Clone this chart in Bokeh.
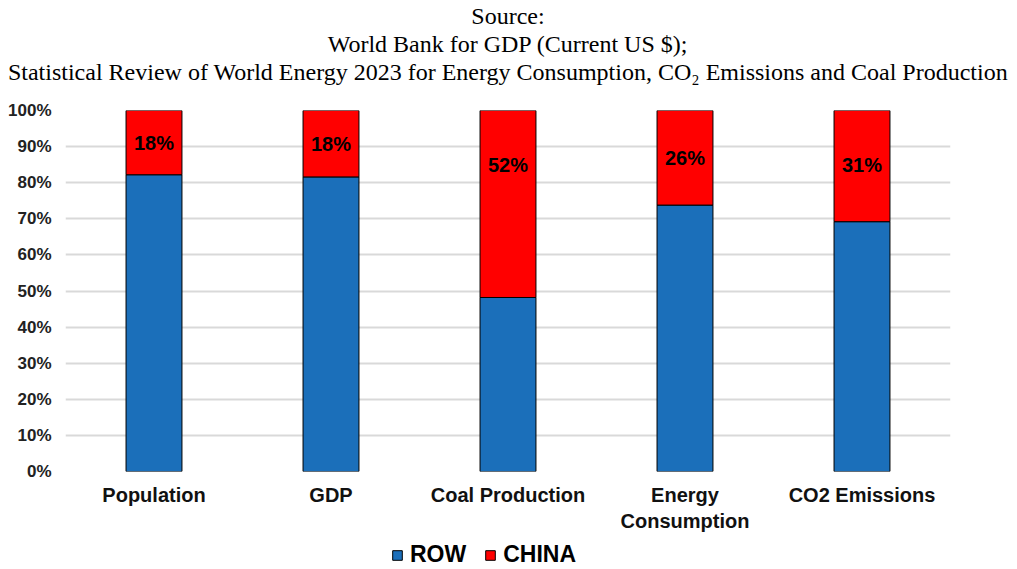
from bokeh.plotting import figure
from bokeh.layouts import column
from bokeh.models import (ColumnDataSource, FactorRange, Range1d, Title, Legend, LegendItem,
                          NumeralTickFormatter, FixedTicker)
from bokeh.embed import file_html
from bokeh.resources import INLINE
from bokeh.core.properties import value

categories = ["Population", "GDP", "Coal Production", "Energy\nConsumption", "CO2 Emissions"]
row_share = [0.822, 0.816, 0.482, 0.738, 0.692]
china_share = [0.178, 0.184, 0.518, 0.262, 0.308]
series_names = ["ROW", "CHINA"]
series_colors = ["#1B6FBA", "#FF0000"]
title_lines = [
    "Source:",
    "World Bank for GDP (Current US $);",
    "Statistical Review of World Energy 2023 for Energy Consumption, CO\u2082 Emissions and Coal Production",
]

label_text = ["%d%%" % round(c * 100) for c in china_share]
label_y = [max(r + c / 2, 0.85) for r, c in zip(row_share, china_share)]

source = ColumnDataSource(dict(cat=categories, ROW=row_share, CHINA=china_share,
                               label=label_text, ly=label_y))

p = figure(frame_width=885, frame_height=361, x_range=FactorRange(*categories), y_range=Range1d(0, 1),
           output_backend="svg", toolbar_location=None,
           min_border_left=65, min_border_right=67, min_border_top=0, min_border_bottom=66)

rs = p.vbar_stack(series_names, x="cat", width=0.316, source=source,
                  fill_color=series_colors, line_color="black", line_width=1)

p.text(x="cat", y="ly", text="label", source=source, text_align="center", text_baseline="middle",
       text_font=value("Liberation Sans"), text_font_style="bold", text_font_size="20px",
       text_color="black")

# blank spacer line between the title block and the plot frame
p.add_layout(Title(text=" ", text_font="Liberation Serif", text_font_size="21px", standoff=0), "above")
for line in reversed(title_lines):
    p.add_layout(Title(text=line, align="center", text_font="Liberation Serif",
                       text_font_size="24px", text_font_style="normal", text_color="black",
                       standoff=0), "above")

p.yaxis.ticker = FixedTicker(ticks=[i / 10 for i in range(11)])
p.yaxis.formatter = NumeralTickFormatter(format="0%")
p.yaxis.major_label_text_font = "Liberation Sans"
p.yaxis.major_label_text_font_style = "bold"
p.yaxis.major_label_text_font_size = "17px"
p.yaxis.major_label_text_color = "#222222"
p.yaxis.axis_line_color = None
p.yaxis.major_tick_line_color = None
p.yaxis.minor_tick_line_color = None
p.yaxis.major_label_standoff = 8

p.xaxis.major_label_text_font = "Liberation Sans"
p.xaxis.major_label_text_font_style = "bold"
p.xaxis.major_label_text_font_size = "20px"
p.xaxis.major_label_text_color = "#111111"
p.xaxis.axis_line_color = None
p.xaxis.major_tick_line_color = None
p.xaxis.minor_tick_line_color = None
p.xaxis.major_label_standoff = 6

p.xgrid.grid_line_color = None
p.ygrid.grid_line_color = "#d9d9d9"
p.ygrid.grid_line_width = 2
p.outline_line_color = None

# separate strip holding the legend, under the chart; its bars lie outside its visible range
lf = figure(width=1017, height=31, x_range=FactorRange(*categories), y_range=Range1d(5, 6),
            output_backend="svg", toolbar_location=None, min_border=0)
lf.axis.visible = False
lf.grid.visible = False
lf.outline_line_color = None
proxies = lf.vbar_stack(series_names, x="cat", width=0.316, source=source,
                        fill_color=series_colors, line_color="black", line_width=1)
legend = Legend(items=[LegendItem(label=n, renderers=[r]) for n, r in zip(series_names, proxies)],
                orientation="horizontal", location=(326, 0), border_line_color=None,
                background_fill_alpha=0,
                label_text_font="Liberation Sans", label_text_font_style="bold",
                label_text_font_size="23px", label_text_color="black",
                glyph_width=12, glyph_height=12,
                spacing=18, label_standoff=7, padding=0, margin=0)
lf.add_layout(legend, "center")

layout = column(p, lf, spacing=0)
open("out.html", "w").write(file_html(layout, INLINE))
